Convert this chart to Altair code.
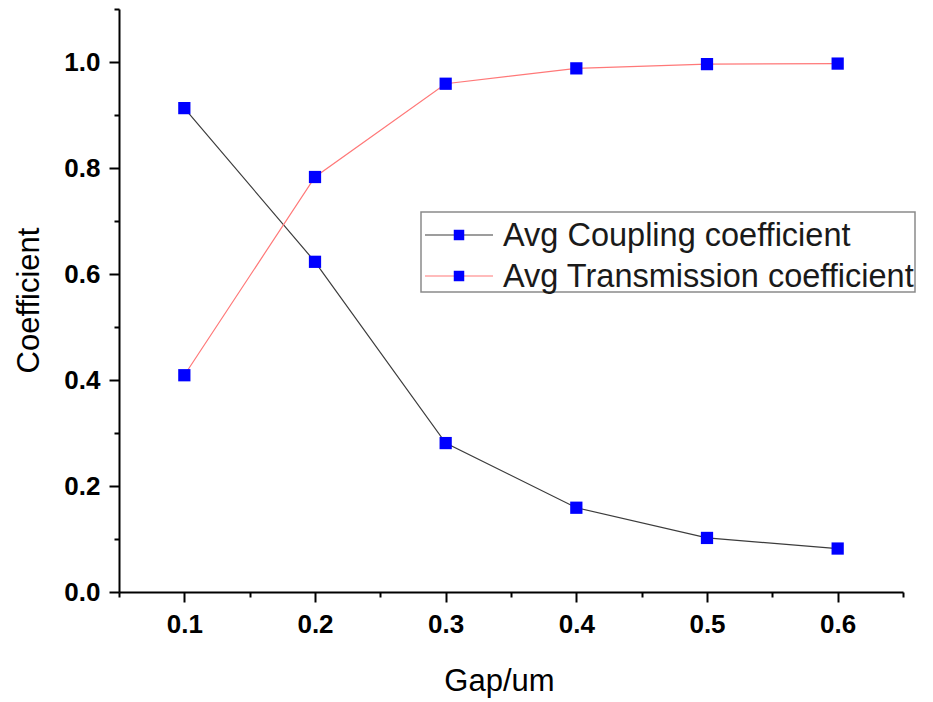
import altair as alt
import pandas as pd

# ---- data ----
gap = [0.1, 0.2, 0.3, 0.4, 0.5, 0.6]
coupling = [0.913, 0.623, 0.281, 0.159, 0.102, 0.082]
transmission = [0.409, 0.783, 0.959, 0.988, 0.996, 0.997]
series = ["Avg Coupling coefficient", "Avg Transmission coefficient"]
line_colors = ["#3c3c3c", "#ff7878"]
marker_color = "#0000ff"

x_major = [0.1, 0.2, 0.3, 0.4, 0.5, 0.6]
x_minor = [0.05, 0.15, 0.25, 0.35, 0.45, 0.55, 0.65]
y_major = [0.0, 0.2, 0.4, 0.6, 0.8, 1.0]
y_minor = [0.1, 0.3, 0.5, 0.7, 0.9, 1.1]
x_title = "Gap/um"
y_title = "Coefficient"

df = pd.DataFrame({
    "gap": gap + gap,
    "value": coupling + transmission,
    "series": [series[0]] * len(gap) + [series[1]] * len(gap),
})

W, H = 784, 583
FONT = "Liberation Sans"

xs = alt.Scale(domain=[0.05, 0.65], nice=False, zero=False)
ys = alt.Scale(domain=[0.0, 1.1], nice=False, zero=False)

x_axis = alt.Axis(values=x_major, format=".1f", title=x_title, orient="bottom",
                  grid=False, domain=True, domainColor="black", domainWidth=2,
                  tickColor="black", tickWidth=2, tickSize=10,
                  labelFont=FONT, labelFontWeight="bold", labelFontSize=26,
                  labelColor="black", labelPadding=9,
                  titleFont=FONT, titleFontWeight="normal", titleFontSize=31,
                  titleColor="black", titleX=380, titleY=98,
                  titleAlign="center", titleBaseline="alphabetic")
y_axis = alt.Axis(values=y_major, format=".1f", title=y_title, orient="left",
                  grid=False, domain=True, domainColor="black", domainWidth=2,
                  tickColor="black", tickWidth=2, tickSize=10,
                  labelFont=FONT, labelFontWeight="bold", labelFontSize=26,
                  labelColor="black", labelPadding=9,
                  titleFont=FONT, titleFontWeight="normal", titleFontSize=31,
                  titleColor="black", titleX=-81, titleY=291, titleAngle=-90,
                  titleAlign="center", titleBaseline="alphabetic")

x_minor_axis = alt.Axis(values=x_minor, labels=False, title=None, orient="bottom",
                        grid=False, domain=False, tickColor="black", tickWidth=2,
                        tickSize=5)
y_minor_axis = alt.Axis(values=y_minor, labels=False, title=None, orient="left",
                        grid=False, domain=False, tickColor="black", tickWidth=2,
                        tickSize=5)

base = alt.Chart(df)

lines = base.mark_line(strokeWidth=1.2).encode(
    x=alt.X("gap:Q", scale=xs, axis=x_axis),
    y=alt.Y("value:Q", scale=ys, axis=y_axis),
    color=alt.Color("series:N", scale=alt.Scale(domain=series, range=line_colors),
                    legend=None),
)

minor = base.mark_point(opacity=0).encode(
    x=alt.X("gap:Q", scale=xs, axis=x_minor_axis),
    y=alt.Y("value:Q", scale=ys, axis=y_minor_axis),
)

points = base.mark_point(shape="square", filled=True, size=150,
                         color=marker_color, opacity=1).encode(
    x=alt.X("gap:Q", scale=xs, axis=None),
    y=alt.Y("value:Q", scale=ys, axis=None),
)

# ---- hand-built legend (box, line samples, markers, labels) ----
box = alt.Chart(pd.DataFrame({"k": [0]})).mark_rect(
    fill="white", stroke="#8a8a8a", strokeWidth=1.5
).encode(x=alt.value(302), x2=alt.value(796), y=alt.value(203), y2=alt.value(283))

legend_layers = [box]
row_y = [226, 267]
for i, name in enumerate(series):
    d = alt.Chart(pd.DataFrame({"label": [name]}))
    legend_layers.append(
        d.mark_rule(color=line_colors[i], strokeWidth=1.2).encode(
            x=alt.value(306), x2=alt.value(374), y=alt.value(row_y[i]))
    )
    legend_layers.append(
        d.mark_point(shape="square", filled=True, size=110, color=marker_color,
                     opacity=1).encode(x=alt.value(340), y=alt.value(row_y[i]))
    )
    legend_layers.append(
        d.mark_text(align="left", baseline="middle", font=FONT, fontSize=32.5,
                    color="#1a1a1a").encode(
            x=alt.value(384), y=alt.value(row_y[i] + 1), text="label:N")
    )

chart = alt.layer(lines, minor, points, *legend_layers).resolve_axis(
    x="independent", y="independent"
).properties(
    width=W, height=H,
    padding={"left": 119, "top": 9, "right": 30, "bottom": 110},
    autosize=alt.AutoSizeParams(type="none"),
    background="white",
).configure_view(stroke=None)

chart.save("out.html", embed_options={"renderer": "svg", "actions": False})
